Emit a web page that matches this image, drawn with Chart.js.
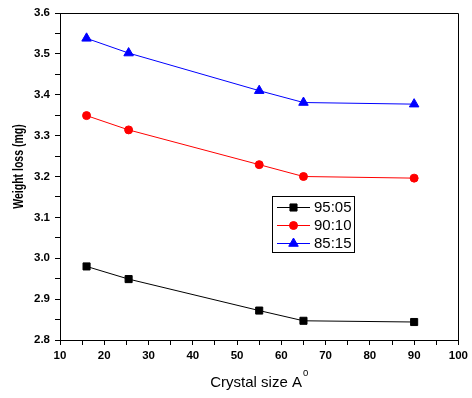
<!DOCTYPE html>
<html><head><meta charset="utf-8">
<style>html,body{margin:0;padding:0;background:#fff}#wrap{width:472px;height:398px}</style>
<script src="https://cdn.jsdelivr.net/npm/chart.js@4.4.0/dist/chart.umd.min.js"></script>
</head><body><div id="wrap"><canvas id="c" width="472" height="398"></canvas></div>
<script>
// ---- data ----
const crystalSize = [16, 25.5, 55, 65, 90];
const loss9505 = [2.980, 2.949, 2.872, 2.847, 2.844];
const loss9010 = [3.349, 3.314, 3.229, 3.200, 3.196];
const loss8515 = [3.538, 3.502, 3.410, 3.381, 3.377];
const seriesLabels = ['95:05', '90:10', '85:15'];
const xTickLabels = [10, 20, 30, 40, 50, 60, 70, 80, 90, 100];
const yTickLabels = [2.8, 2.9, 3.0, 3.1, 3.2, 3.3, 3.4, 3.5, 3.6];
const xTitle = 'Crystal size A';
const xTitleSup = '0';
const yTitle = 'Weight loss (mg)';

const FONT = "'Liberation Sans', Arial, sans-serif";
const colors = ['#000000', '#ff0000', '#0000ff'];
const styles = ['rect', 'circle', 'triangle'];
const radii = [5, 4, 5.5];
const seriesData = [loss9505, loss9010, loss8515];

function pts(ys) { return crystalSize.map((x, i) => ({x: x, y: ys[i]})); }
function near(list, v) { return list.some(t => Math.abs(t - v) < 1e-6); }

function drawMarker(ctx, style, r, x, y, color) {
  ctx.save();
  ctx.fillStyle = color; ctx.strokeStyle = color; ctx.lineWidth = 1;
  ctx.beginPath();
  if (style === 'rect') {
    const s = Math.SQRT1_2 * r;
    ctx.rect(x - s, y - s, 2 * s, 2 * s);
  } else if (style === 'circle') {
    ctx.arc(x, y, r, 0, Math.PI * 2);
  } else {
    let a = 0;
    ctx.moveTo(x + Math.sin(a) * r, y - Math.cos(a) * r);
    a += 2 * Math.PI / 3;
    ctx.lineTo(x + Math.sin(a) * r, y - Math.cos(a) * r);
    a += 2 * Math.PI / 3;
    ctx.lineTo(x + Math.sin(a) * r, y - Math.cos(a) * r);
    ctx.closePath();
  }
  ctx.fill(); ctx.stroke();
  ctx.restore();
}

const al = v => Math.round(v - 0.5) + 0.5;

const framePlugin = {
  id: 'frame',
  afterDraw(chart) {
    const {ctx, chartArea: a} = chart;
    ctx.save();
    // top and right frame lines
    ctx.strokeStyle = '#000'; ctx.lineWidth = 1;
    ctx.beginPath();
    ctx.moveTo(al(a.left), al(a.top)); ctx.lineTo(al(a.right), al(a.top));
    ctx.lineTo(al(a.right), al(a.bottom));
    ctx.stroke();

    // y title
    ctx.fillStyle = '#000';
    ctx.font = 'bold 10.5px ' + FONT;
    ctx.textAlign = 'center'; ctx.textBaseline = 'middle';
    ctx.save();
    ctx.translate(18.5, 166.5);
    ctx.scale(1.4, 1);
    ctx.rotate(-Math.PI / 2);
    ctx.fillText(yTitle, 0, 0);
    ctx.restore();

    // x title with superscript
    ctx.font = '15px ' + FONT;
    const w1 = ctx.measureText(xTitle).width;
    ctx.font = '9.5px ' + FONT;
    const w2 = ctx.measureText(xTitleSup).width;
    const cx = (a.left + a.right) / 2;
    const x0 = cx - (w1 + w2 + 1) / 2;
    ctx.textAlign = 'left'; ctx.textBaseline = 'alphabetic';
    ctx.font = '15px ' + FONT;
    ctx.fillText(xTitle, x0, 386.7);
    ctx.font = '9.5px ' + FONT;
    ctx.fillText(xTitleSup, x0 + w1 + 1, 376);

    // legend
    ctx.strokeStyle = '#000'; ctx.lineWidth = 1;
    ctx.strokeRect(272.5, 196.5, 82, 56);
    ctx.font = '15px ' + FONT;
    ctx.textBaseline = 'middle';
    for (let i = 0; i < seriesLabels.length; i++) {
      const y = 206.5 + i * 18.3;
      ctx.strokeStyle = colors[i];
      ctx.beginPath(); ctx.moveTo(277, Math.round(y) + 0.5); ctx.lineTo(310, Math.round(y) + 0.5); ctx.stroke();
      drawMarker(ctx, styles[i], radii[i], 293.5, Math.round(y) + 0.5, colors[i]);
      ctx.fillStyle = '#000';
      ctx.fillText(seriesLabels[i], 314, y + 1);
    }
    ctx.restore();
  }
};

new Chart(document.getElementById('c'), {
  type: 'line',
  data: {
    datasets: seriesLabels.map((lab, i) => ({
      label: lab,
      data: pts(seriesData[i]),
      borderColor: colors[i],
      backgroundColor: colors[i],
      borderWidth: 1,
      pointStyle: styles[i],
      pointRadius: radii[i],
      pointHoverRadius: radii[i],
      pointBorderWidth: 1,
      tension: 0
    }))
  },
  options: {
    responsive: false,
    animation: false,
    events: [],
    layout: {padding: {top: 13, right: 10, left: 0, bottom: 0}},
    plugins: {legend: {display: false}, tooltip: {enabled: false}},
    scales: {
      x: {
        type: 'linear', min: 10, max: 100,
        afterFit(s) { s.height = 58; },
        ticks: {
          stepSize: 5, autoSkip: false, maxRotation: 0, padding: 4,
          color: '#000', font: {family: FONT, size: 11.5, weight: 'bold'},
          callback: v => near(xTickLabels, v) ? String(Math.round(v)) : ''
        },
        grid: {drawOnChartArea: false, drawTicks: true, tickLength: 5, color: '#000'},
        border: {color: '#000', width: 1}
      },
      y: {
        type: 'linear', min: 2.8, max: 3.6,
        afterFit(s) { s.width = 60; },
        ticks: {
          stepSize: 0.05, autoSkip: false, padding: 5,
          color: '#000', font: {family: FONT, size: 11.5, weight: 'bold'},
          callback: v => near(yTickLabels, v) ? v.toFixed(1) : ''
        },
        grid: {drawOnChartArea: false, drawTicks: true, tickLength: 5, color: '#000'},
        border: {color: '#000', width: 1}
      }
    }
  },
  plugins: [framePlugin]
});
</script></body></html>
